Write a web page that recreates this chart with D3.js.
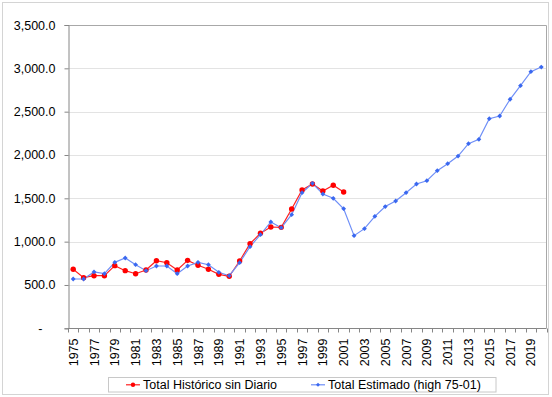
<!DOCTYPE html>
<html>
<head>
<meta charset="utf-8">
<script src="https://cdn.jsdelivr.net/npm/d3@7"></script>
<style>
  html, body { margin: 0; padding: 0; background: #fff; }
  svg { display: block; font-family: "Liberation Sans", Arial, sans-serif; }
</style>
</head>
<body>
<svg id="chart" width="552" height="397"></svg>
<script>
const years = d3.range(1975, 2021).map(String);
const seriesNames = ["Total Histórico sin Diario", "Total Estimado (high 75-01)"];
const historico = [681,584,607,607,723,665,630,673,780,757,673,784,727,681,623,600,777,976,1096,1169,1165,1377,1596,1665,1584,1650,1573];
const estimado = [569,569,650,630,761,811,734,665,719,719,630,719,761,734,646,607,757,942,1080,1227,1161,1311,1565,1673,1550,1500,1380,1069,1150,1292,1405,1469,1565,1665,1703,1819,1900,1988,2130,2181,2419,2450,2643,2800,2961,3015];
const yTickValues = [0,500,1000,1500,2000,2500,3000,3500];
const yTickLabels = ["-","500.0","1,000.0","1,500.0","2,000.0","2,500.0","3,000.0","3,500.0"];
const xLabelYears = years.filter((y, i) => i % 2 === 0);

const svg = d3.select("#chart");
const pLeft = 68, pRight = 546.5, pTop = 25, pBottom = 328.3;

const x = d3.scaleBand().domain(years).range([pLeft, pRight]).padding(0);
const y = d3.scaleLinear().domain([0, 3500]).range([pBottom, pTop]);
const cx = d => x(d) + x.bandwidth() / 2;

// outer border
svg.append("rect").attr("x", 2.5).attr("y", 2.5).attr("width", 546).attr("height", 392)
  .attr("fill", "#fff").attr("stroke", "#d4d4d4");

// gridlines
svg.append("g").selectAll("line").data(yTickValues.slice(1, -1)).join("line")
  .attr("x1", pLeft).attr("x2", pRight)
  .attr("y1", d => Math.round(y(d)) + 0.5).attr("y2", d => Math.round(y(d)) + 0.5)
  .attr("stroke", "#e3e3e3");

// plot border top & right
svg.append("path")
  .attr("d", `M${pLeft},${pTop + 0.5}H${pRight}V${pBottom}`)
  .attr("fill", "none").attr("stroke", "#a8a8a8");

// Y axis
const yAxis = d3.axisLeft(y).tickValues(yTickValues).tickSize(4).tickPadding(9)
  .tickFormat((d, i) => yTickLabels[i]);
const gy = svg.append("g").attr("transform", `translate(${pLeft + 0.5},0)`).call(yAxis);
gy.select(".domain").attr("stroke", "#868686");
gy.selectAll(".tick line").attr("stroke", "#868686");
gy.selectAll(".tick text").attr("font-size", 12.5).attr("fill", "#000")
  .attr("font-family", "Liberation Sans, Arial, sans-serif");
gy.selectAll(".tick text").filter((d, i) => i === 0).attr("dx", -13);

// X axis
const gx = svg.append("g").attr("transform", `translate(0,${Math.round(pBottom) + 0.5})`);
gx.append("line").attr("x1", pLeft).attr("x2", pRight).attr("stroke", "#868686");
const bounds = years.map(d => x(d)).concat([pRight]);
gx.selectAll("line.tk").data(bounds).join("line").attr("class", "tk")
  .attr("x1", d => Math.round(d) + 0.5).attr("x2", d => Math.round(d) + 0.5)
  .attr("y1", 0).attr("y2", 4).attr("stroke", "#868686");
gx.selectAll("text").data(xLabelYears).join("text")
  .attr("transform", d => `translate(${cx(d)},${10}) rotate(-90)`)
  .attr("text-anchor", "end").attr("dy", "0.36em")
  .attr("font-size", 12.5).attr("fill", "#000")
  .text(d => d);

// lines
const lineGen = (data) => d3.line().x((d, i) => cx(years[i])).y(d => y(d))(data);

const blueLine = "#6f8ff7", blueMark = "#3a68f0";
const redLine = "#ff2020", redMark = "#ff0000";

svg.append("path").attr("d", lineGen(historico)).attr("fill", "none")
  .attr("stroke", redLine).attr("stroke-width", 1.2);
svg.append("path").attr("d", lineGen(estimado)).attr("fill", "none")
  .attr("stroke", blueLine).attr("stroke-width", 1.2);

svg.append("g").selectAll("circle").data(historico).join("circle")
  .attr("cx", (d, i) => cx(years[i])).attr("cy", d => y(d)).attr("r", 2.7)
  .attr("fill", redMark);

const diamond = (px, py, s) => `M${px},${py - s}L${px + s},${py}L${px},${py + s}L${px - s},${py}Z`;
svg.append("g").selectAll("path").data(estimado).join("path")
  .attr("d", (d, i) => diamond(cx(years[i]), y(d), 2.4))
  .attr("fill", blueMark);

// legend
const lg = svg.append("g");
lg.append("rect").attr("x", 108.5).attr("y", 377.5).attr("width", 387.5).attr("height", 14.5)
  .attr("fill", "#fff").attr("stroke", "#c8c8c8");
const items = [
  { name: seriesNames[0], x0: 126, line: redLine, mark: redMark, shape: "c" },
  { name: seriesNames[1], x0: 311, line: blueLine, mark: blueMark, shape: "d" }
];
items.forEach(it => {
  const ly = 384.8;
  lg.append("line").attr("x1", it.x0).attr("x2", it.x0 + 14).attr("y1", ly).attr("y2", ly)
    .attr("stroke", it.line).attr("stroke-width", 1.2);
  if (it.shape === "c") {
    lg.append("circle").attr("cx", it.x0 + 7).attr("cy", ly).attr("r", 2.2).attr("fill", it.mark);
  } else {
    lg.append("path").attr("d", diamond(it.x0 + 7, ly, 2)).attr("fill", it.mark);
  }
  lg.append("text").attr("x", it.x0 + 17).attr("y", ly).attr("dy", "0.36em")
    .attr("font-size", 12.5).attr("fill", "#000").text(it.name);
});
</script>
</body>
</html>
